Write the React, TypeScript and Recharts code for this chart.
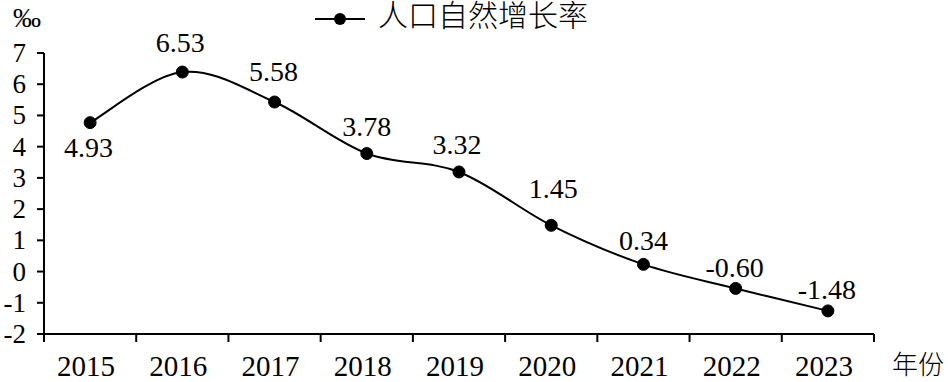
import React from 'react';
import { LineChart, Line, XAxis, YAxis, LabelList, Legend } from 'recharts';

// Categories (years)
const years = ['2015', '2016', '2017', '2018', '2019', '2020', '2021', '2022', '2023'];
// Plotted positions of the markers (‰)
const plottedRate = [4.77, 6.39, 5.43, 3.78, 3.19, 1.48, 0.23, -0.54, -1.26];
// Printed data labels
const printedLabels = ['4.93', '6.53', '5.58', '3.78', '3.32', '1.45', '0.34', '-0.60', '-1.48'];
// Y axis ticks
const yTicks = [-2, -1, 0, 1, 2, 3, 4, 5, 6, 7];

// Label placement (style): offsets of label centre from marker
const labelDy = [24.5, -30, -31, -27, -27, -37, -24, -21, -21];
const labelDx = [-1.5, -2, -1, 0, -2, 2, 0, -1, -1];

const data = years.map((y, i) => ({ year: y, rate: plottedRate[i], label: printedLabels[i] }));

const SERIF = '"Liberation Serif"';
const CJK = '"Noto Sans CJK SC"';

// Excel-like smoothed line (uniform Catmull-Rom as Bezier)
const smoothCurve: any = (ctx: any) => {
  let pts: [number, number][] = [];
  return {
    areaStart() {},
    areaEnd() {},
    lineStart() {
      pts = [];
    },
    lineEnd() {
      if (!pts.length) return;
      ctx.moveTo(pts[0][0], pts[0][1]);
      for (let i = 0; i < pts.length - 1; i++) {
        const p0 = pts[i - 1] || pts[i];
        const p1 = pts[i];
        const p2 = pts[i + 1];
        const p3 = pts[i + 2] || p2;
        ctx.bezierCurveTo(
          p1[0] + (p2[0] - p0[0]) / 6,
          p1[1] + (p2[1] - p0[1]) / 6,
          p2[0] - (p3[0] - p1[0]) / 6,
          p2[1] - (p3[1] - p1[1]) / 6,
          p2[0],
          p2[1]
        );
      }
    },
    point(x: number, y: number) {
      pts.push([+x, +y]);
    },
  };
};

const serifStyle = { fontFamily: SERIF };

const XTick = (props: any) => {
  const { x, y, payload, index } = props;
  const off = payload.offset || 0;
  const axisY = y - 8;
  const isLast = index === years.length - 1;
  return (
    <g>
      <line x1={x - off} y1={axisY} x2={x - off} y2={axisY + 8} stroke="#000" strokeWidth={2} />
      {isLast && <line x1={x + off} y1={axisY} x2={x + off} y2={axisY + 8} stroke="#000" strokeWidth={2} />}
      <text x={x - 4} y={y + 34} textAnchor="middle" style={serifStyle} fontSize={29} fill="#000">
        {payload.value}
      </text>
    </g>
  );
};

const YTick = (props: any) => {
  const { x, y, payload } = props;
  return (
    <text x={x} y={y + 9} textAnchor="end" style={serifStyle} fontSize={27} fill="#000">
      {payload.value}
    </text>
  );
};

const renderLabel = (props: any) => {
  const { x, y, value, index } = props;
  return (
    <text
      x={x + labelDx[index]}
      y={y + labelDy[index] + 9.5}
      textAnchor="middle"
      style={serifStyle}
      fontSize={28}
      fill="#000"
    >
      {value}
    </text>
  );
};

const UnitLabel = (props: any) => {
  const vb = props.viewBox || {};
  return (
    <text x={(vb.x || 0) + 27} y={(vb.y || 0) - 26} textAnchor="middle" style={serifStyle} fontSize={28} fill="#000">
      ‰
    </text>
  );
};

const LegendContent = () => (
  <svg width={300} height={34} style={{ display: 'block', overflow: 'visible' }}>
    <line x1={0} y1={19} x2={50} y2={19} stroke="#000" strokeWidth={2} />
    <circle cx={25} cy={19} r={6} fill="#000" />
    <text x={63} y={26} style={{ fontFamily: CJK }} fontWeight={300} fontSize={30} fill="#000">
      人口自然增长率
    </text>
  </svg>
);

export default function App() {
  return (
    <div style={{ position: 'absolute', left: 0, top: 0, background: '#fff', fontFamily: SERIF }}>
      <LineChart
        width={948}
        height={382}
        data={data}
        margin={{ top: 53, right: 74, bottom: 0, left: 0 }}
      >
        <Legend
          layout="horizontal"
          verticalAlign="middle"
          align="center"
          wrapperStyle={{ top: 0, left: 315, width: 300, height: 34 }}
          content={<LegendContent />}
        />
        <XAxis
          dataKey="year"
          scale="band"
          height={48}
          tickSize={8}
          tickMargin={0}
          tickLine={false}
          axisLine={{ stroke: '#000', strokeWidth: 2 }}
          tick={<XTick />}
          interval={0}
          label={{ value: '年份', position: 'right', offset: 18, dy: 7, style: { fontFamily: CJK }, fontWeight: 300, fontSize: 26, fill: '#000' }}
        />
        <YAxis
          width={44}
          domain={[-2, 7]}
          ticks={yTicks}
          interval={0}
          tickSize={7}
          tickMargin={11}
          axisLine={{ stroke: '#000', strokeWidth: 2 }}
          tickLine={{ stroke: '#000', strokeWidth: 2 }}
          tick={<YTick />}
          label={<UnitLabel />}
        />
        <Line
          dataKey="rate"
          type={smoothCurve}
          stroke="#000"
          strokeWidth={2}
          dot={{ r: 6, fill: '#000', stroke: '#000', strokeWidth: 1 }}
          activeDot={false}
          isAnimationActive={false}
        >
          <LabelList dataKey="label" content={renderLabel} />
        </Line>
      </LineChart>
    </div>
  );
}
